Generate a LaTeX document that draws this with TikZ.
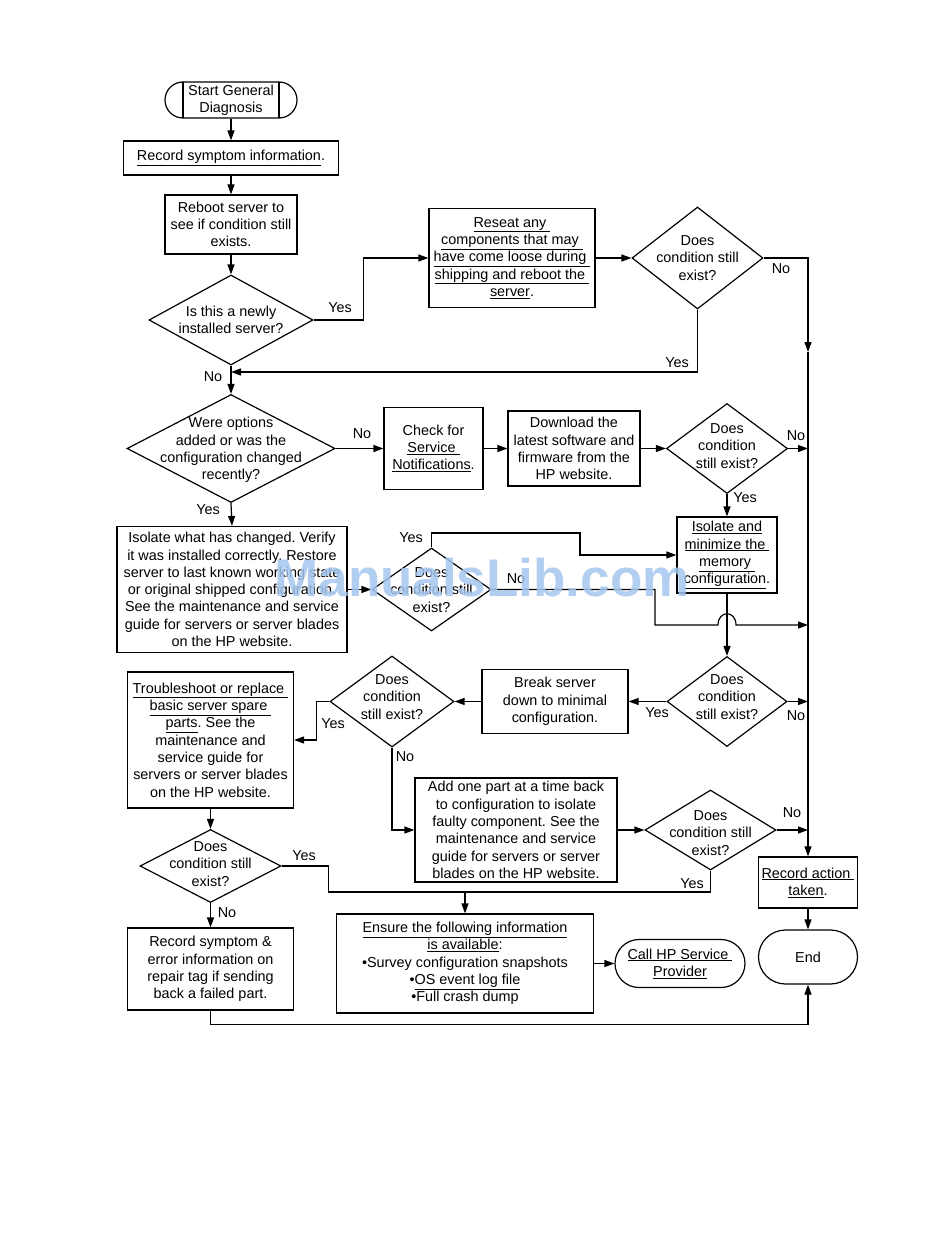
\documentclass[tikz,border=0pt]{standalone}
\usepackage{fontspec}
\setmainfont{Liberation Sans}
\usetikzlibrary{arrows.meta,shapes.geometric,calc}
\newcommand{\myfs}{\fontsize{14.4pt}{17.3pt}\selectfont}
\newcommand{\ulx}[1]{\underline{#1}}
\definecolor{wm}{RGB}{165,198,238}
\frenchspacing
\begin{document}
\begin{tikzpicture}[x=1pt,y=-1pt,
  every node/.style={font=\myfs, align=center, inner sep=0pt},
  box/.style={draw, line width=1.2pt},
  dia/.style={diamond, draw, line width=1.2pt, inner sep=0pt},
  ln/.style={line width=1.2pt},
  arr/.style={line width=1.2pt, -{Triangle[length=10pt,width=7pt]}},
  lab/.style={font=\myfs}]
\useasboundingbox (0,0) rectangle (950,1260);
\fill[white] (0,0) rectangle (950,1260);

% ---- nodes ----
\node[box, rounded corners=18pt, minimum width=132pt, minimum height=36pt] (start) at (231,100) {Start General\\Diagnosis};
\draw[ln] (183,82) -- (183,118);
\draw[ln] (279,82) -- (279,118);

\node[box, minimum width=215pt, minimum height=34pt] (recsym) at (231,158) {\ulx{Record symptom information}.};
\node[box, minimum width=132pt, minimum height=59pt] (reboot) at (231,224.5) {Reboot server to\\see if condition still\\exists.};

\node[dia, minimum width=164pt, minimum height=90pt] (d1) at (231,320) {};
\node (d1t) at (231,320) {Is this a newly\\installed server?};

\node[box, minimum width=166pt, minimum height=99pt] (reseat) at (512,258) {\ulx{Reseat any\ }\\\ulx{components that may\ }\\\ulx{have come loose during\ }\\\ulx{shipping and reboot the\ }\\\ulx{server}.};

\node[dia, minimum width=131pt, minimum height=102pt] (d2) at (697.5,258) {};
\node (d2t) at (697.5,258) {Does\\condition still\\exist?};

\node[dia, minimum width=208pt, minimum height=108pt] (d3) at (231,448.5) {};
\node (d3t) at (231,450) {Were options\\added or was the\\configuration changed\\recently?};

\node[box, minimum width=99pt, minimum height=82pt] (check) at (433.5,448.5) {Check for\\\ulx{Service\ }\\\ulx{Notifications}.};
\node[box, minimum width=132pt, minimum height=75pt] (download) at (574,448.5) {Download the\\latest software and\\firmware from the\\HP website.};

\node[dia, minimum width=121pt, minimum height=90pt] (d4) at (727,448.5) {};
\node (d4t) at (727,446) {Does\\condition\\still exist?};

\node[box, minimum width=100pt, minimum height=76pt] (isomem) at (727,555) {\ulx{Isolate and}\\\ulx{minimize the\ }\\\ulx{memory\ }\\\ulx{configuration}.};

\node[box, minimum width=230pt, minimum height=126pt] (isoleft) at (232,589.5) {Isolate what has changed. Verify\\it was installed correctly. Restore\\server to last known working state\\or original shipped configuration.\\See the maintenance and service\\guide for servers or server blades\\on the HP website.};

\node[dia, minimum width=119pt, minimum height=83pt] (d5) at (431.5,589.5) {};
\node (d5t) at (431.5,590) {Does\\condition still\\exist?};

\node[dia, minimum width=120pt, minimum height=90pt] (d6) at (727,701.5) {};
\node (d6t) at (727,697) {Does\\condition\\still exist?};

\node[box, minimum width=146pt, minimum height=64pt] (brk) at (555,701.5) {Break server\\down to minimal\\configuration.};

\node[dia, minimum width=124pt, minimum height=91pt] (d7) at (392,701.5) {};
\node (d7t) at (392,697) {Does\\condition\\still exist?};

\node[box, minimum width=166pt, minimum height=136pt] (trouble) at (210.5,740) {\ulx{Troubleshoot or replace\ }\\\ulx{basic server spare\ }\\\ulx{parts}. See the\\maintenance and\\service guide for\\servers or server blades\\on the HP website.};

\node[box, minimum width=202pt, minimum height=104pt] (add) at (516,830) {Add one part at a time back\\to configuration to isolate\\faulty component. See the\\maintenance and service\\guide for servers or server\\blades on the HP website.};

\node[dia, minimum width=131pt, minimum height=80pt] (d8) at (710.5,830) {};
\node (d8t) at (710.5,833) {Does\\condition still\\exist?};

\node[dia, minimum width=141pt, minimum height=73pt] (d9) at (210.5,866) {};
\node (d9t) at (210.5,864) {Does\\condition still\\exist?};

\node[box, minimum width=99pt, minimum height=51pt] (recact) at (808,882.5) {\ulx{Record action\ }\\\ulx{taken}.};
\node[box, rounded corners=27pt, minimum width=99pt, minimum height=54pt] (end) at (808,957) {End};

\node[box, minimum width=166pt, minimum height=82pt] (recerr) at (210.5,969) {Record symptom \&\\error information on\\repair tag if sending\\back a failed part.};

\node[box, minimum width=257pt, minimum height=99pt] (ensure) at (465,963.5) {\ulx{Ensure the following information}\\\ulx{is available}:\\•Survey configuration snapshots\\•\ulx{OS event log file}\\•Full crash dump};

\node[box, rounded corners=24pt, minimum width=130pt, minimum height=48pt] (call) at (680,963.5) {\ulx{Call HP Service\ }\\\ulx{Provider}};

% ---- helper coordinates ----
\coordinate (rmid) at (808,352);
\coordinate (j2) at (231,372);
\coordinate (j3) at (580,533);
\coordinate (j4) at (655,625);
\coordinate (j5) at (465,892);
\coordinate (hop) at (isomem.south |- j4);

% ---- connectors ----
\draw[arr] (start) -- (recsym);
\draw[arr] (recsym) -- (reboot);
\draw[arr] (reboot) -- (d1.north);
\draw[arr] (d1.east) -- ++(50,0) |- (reseat.west);
\draw[arr] (reseat.east) -- (d2.west);
\draw[arr] (d2.east) -| (rmid);
\draw[arr] (rmid) -- (recact.north);
\draw[arr] (d2.south) |- (j2);
\draw[arr] (d1.south) -- (d3.north);
\draw[arr] (d3.east) -- (check.west);
\draw[arr] (check.east) -- (download.west);
\draw[arr] (download.east) -- (d4.west);
\draw[arr] (d4.east) -- (d4.east -| rmid);
\draw[arr] (d4.south) -- (isomem.north);
\draw[arr] (d3.south) -- (isoleft.north);
\draw[arr] (isoleft.east) -- (d5.west);
\draw[arr] (d5.north) |- (j3) |- (isomem.west);
\draw[arr] (d5.east) -| (j4) -- ([xshift=-9pt]hop) .. controls ([xshift=-9pt,yshift=15pt]hop) and ([xshift=9pt,yshift=15pt]hop) .. ([xshift=9pt]hop) -- (j4 -| rmid);
\draw[arr] (isomem.south) -- (d6.north);
\draw[arr] (d6.east) -- (d6.east -| rmid);
\draw[arr] (d6.west) -- (brk.east);
\draw[arr] (brk.west) -- (d7.east);
\draw[arr] (d7.west) -- ++(-13,0) |- (trouble.east);
\draw[arr] (d7.south) |- (add.west);
\draw[arr] (add.east) -- (d8.west);
\draw[arr] (d8.east) -- (d8.east -| rmid);
\draw[arr] (trouble.south) -- (d9.north);
\draw[ln] (d9.east) -- ++(47,0) |- (j5);
\draw[ln] (d8.south) |- (j5);
\draw[arr] (j5) -- (ensure.north);
\draw[arr] (d9.south) -- (recerr.north);
\draw[arr] (recerr.south) -- ++(0,14) -| (end.south);
\draw[arr] (ensure.east) -- (call.west);
\draw[arr] (recact.south) -- (end.north);

% ---- labels ----
\node[lab] (l1) at (340,308) {Yes};
\node[lab] (l2) at (781,269) {No};
\node[lab] (l3) at (677,363) {Yes};
\node[lab] (l4) at (213,377) {No};
\node[lab] (l5) at (362,434) {No};
\node[lab] (l6) at (796,436) {No};
\node[lab] (l7) at (745,498) {Yes};
\node[lab] (l8) at (208,510) {Yes};
\node[lab] (l9) at (411,538) {Yes};
\node[lab] (l10) at (516,579) {No};
\node[lab] (l11) at (657,713) {Yes};
\node[lab] (l12) at (796,716) {No};
\node[lab] (l13) at (333,724) {Yes};
\node[lab] (l14) at (405,757) {No};
\node[lab] (l15) at (792,813) {No};
\node[lab] (l16) at (692,884) {Yes};
\node[lab] (l17) at (304,856) {Yes};
\node[lab] (l18) at (227,913) {No};

% ---- watermark ----
\node[font=\fontsize{53pt}{53pt}\selectfont\bfseries, text=wm, opacity=0.85] (wmark) at (482,578) {ManualsLib.com};
\end{tikzpicture}
\end{document}
